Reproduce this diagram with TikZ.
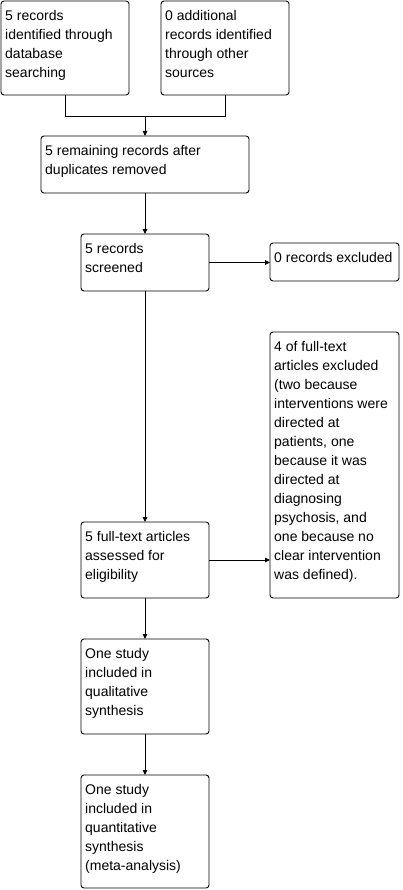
\documentclass[tikz,border=0pt]{standalone}
\usepackage{fontspec}
\setmainfont{Liberation Sans}
\usetikzlibrary{arrows.meta}
\usetikzlibrary{positioning}
\usetikzlibrary{calc}
\newcommand{\stagetext}[1]{\parbox[t]{200pt}{\fontsize{14}{19}\selectfont #1}}

\begin{document}
\begin{tikzpicture}[
  x=1pt, y=-1pt,
  dep/.style ={
    -{Triangle[length=5pt,width=4.5pt]},line width=0.9pt
  },
  lnk/.style ={
    line width=0.9pt
  },
  stage/.style 2 args={
    rectangle,
    draw=black,
    line width=0.9pt,
    rounded corners=3pt,
    minimum width=#1,
    minimum height=#2,
    anchor=north west,
    inner sep=0pt,
    outer sep=0pt},
  txt/.style={
    anchor=base west,
    inner sep=0pt},
]

  \useasboundingbox (0,0) rectangle (402,890);

  \def\colleft{81}%
  \def\colright{270}%
  \def\txtoff{19.5}%

    % Identification
  \node[stage={128pt}{94pt}] (ident) at (1,1) {};
  \node[txt] at ($(ident.north west)+(4,\txtoff)$)
      {\stagetext{5 records\\identified through\\database\\searching}};

  \node[stage={128pt}{94pt}] (other) at (161,1) {};
  \node[txt] at ($(other.north west)+(4,\txtoff)$)
      {\stagetext{0 additional\\records identified\\through other\\sources}};

  \node[stage={208pt}{57pt}] (dedup) at (41,136) {};
  \node[txt] at ($(dedup.north west)+(4,\txtoff)$)
      {\stagetext{5 remaining records after\\duplicates removed}};

    % Screening
  \node[stage={128pt}{57pt}] (screen) at (\colleft,234) {};
  \node[txt] at ($(screen.north west)+(4,\txtoff)$)
      {\stagetext{5 records\\screened}};

  \node[stage={129pt}{38pt}] (recexcl) at (\colright,243) {};
  \node[txt] at ($(recexcl.north west)+(4,\txtoff)$)
      {\stagetext{0 records excluded}};

    % Eligibility
  \node[stage={128pt}{76pt}] (fulltext) at (\colleft,522) {};
  \node[txt] at ($(fulltext.north west)+(4,\txtoff)$)
      {\stagetext{5 full-text articles\\assessed for\\eligibility}};

  \node[stage={129pt}{266pt}] (ftexcl) at (\colright,332) {};
  \node[txt] at ($(ftexcl.north west)+(4,\txtoff)$)
      {\stagetext{4 of full-text\\articles excluded\\(two because\\interventions were\\directed at\\patients, one\\because it was\\directed at\\diagnosing\\psychosis, and\\one because no\\clear intervention\\was defined).}};

    % Included
  \node[stage={128pt}{95pt}] (qual) at (\colleft,639) {};
  \node[txt] at ($(qual.north west)+(4,\txtoff)$)
      {\stagetext{One study\\included in\\qualitative\\synthesis}};

  \node[stage={128pt}{113pt}] (quant) at (\colleft,775) {};
  \node[txt] at ($(quant.north west)+(4,\txtoff)$)
      {\stagetext{One study\\included in\\quantitative\\synthesis\\(meta-analysis)}};

    % Connectors
  \coordinate (merge) at (145,116);
  \draw[lnk] (ident.south) |- (merge);
  \draw[lnk] (other.south) |- (merge);
  \draw[dep] (merge) -- (dedup.north);

  \draw[dep] (dedup.south) -- (screen.north);
  \draw[dep] (screen.east) -- (screen.east -| recexcl.west);
  \draw[dep] (screen.south) -- (fulltext.north);
  \draw[dep] (fulltext.east) -- (fulltext.east -| ftexcl.west);
  \draw[dep] (fulltext.south) -- (qual.north);
  \draw[dep] (qual.south) -- (quant.north);

\end{tikzpicture}
\end{document}
